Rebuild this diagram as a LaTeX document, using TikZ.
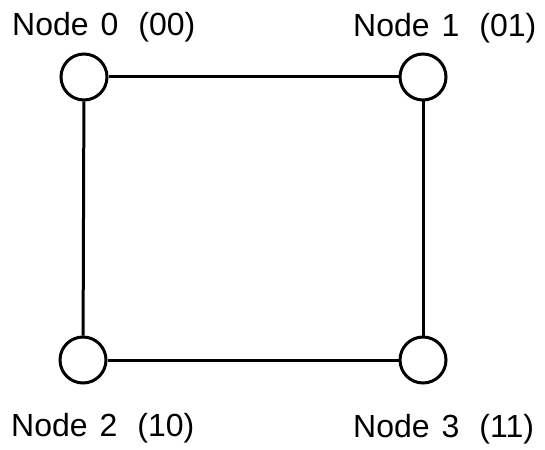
\documentclass[tikz,border=0pt]{standalone}
\usepackage{fontspec}
\setmainfont{Liberation Sans}
\begin{document}
\begin{tikzpicture}[x=1pt,y=-1pt,
  vertex/.style={circle,draw,line width=3pt,minimum size=46pt,inner sep=0pt},
  lbl/.style={anchor=base west,inner sep=0pt,font=\fontsize{32}{34}\selectfont},
  edge/.style={line width=3pt}]
\useasboundingbox (0,0) rectangle (545,449);
\node[vertex] (n0) at (84,77) {};
\node[vertex] (n1) at (423,77) {};
\node[vertex] (n2) at (83,360) {};
\node[vertex] (n3) at (423,360) {};
\draw[edge] (n0) -- (n1);
\draw[edge] (n2) -- (n3);
\draw[edge] (n0) -- (n2);
\draw[edge] (n1) -- (n3);
\node[lbl] (t0) at (12,36) {Node\hspace{12pt}0\hspace{20pt}(00)};
\node[lbl] (t1) at (353,37) {Node\hspace{12pt}1\hspace{20pt}(01)};
\node[lbl] (t2) at (11,436) {Node\hspace{12pt}2\hspace{20pt}(10)};
\node[lbl] (t3) at (353,437) {Node\hspace{12pt}3\hspace{20pt}(11)};
\end{tikzpicture}
\end{document}
